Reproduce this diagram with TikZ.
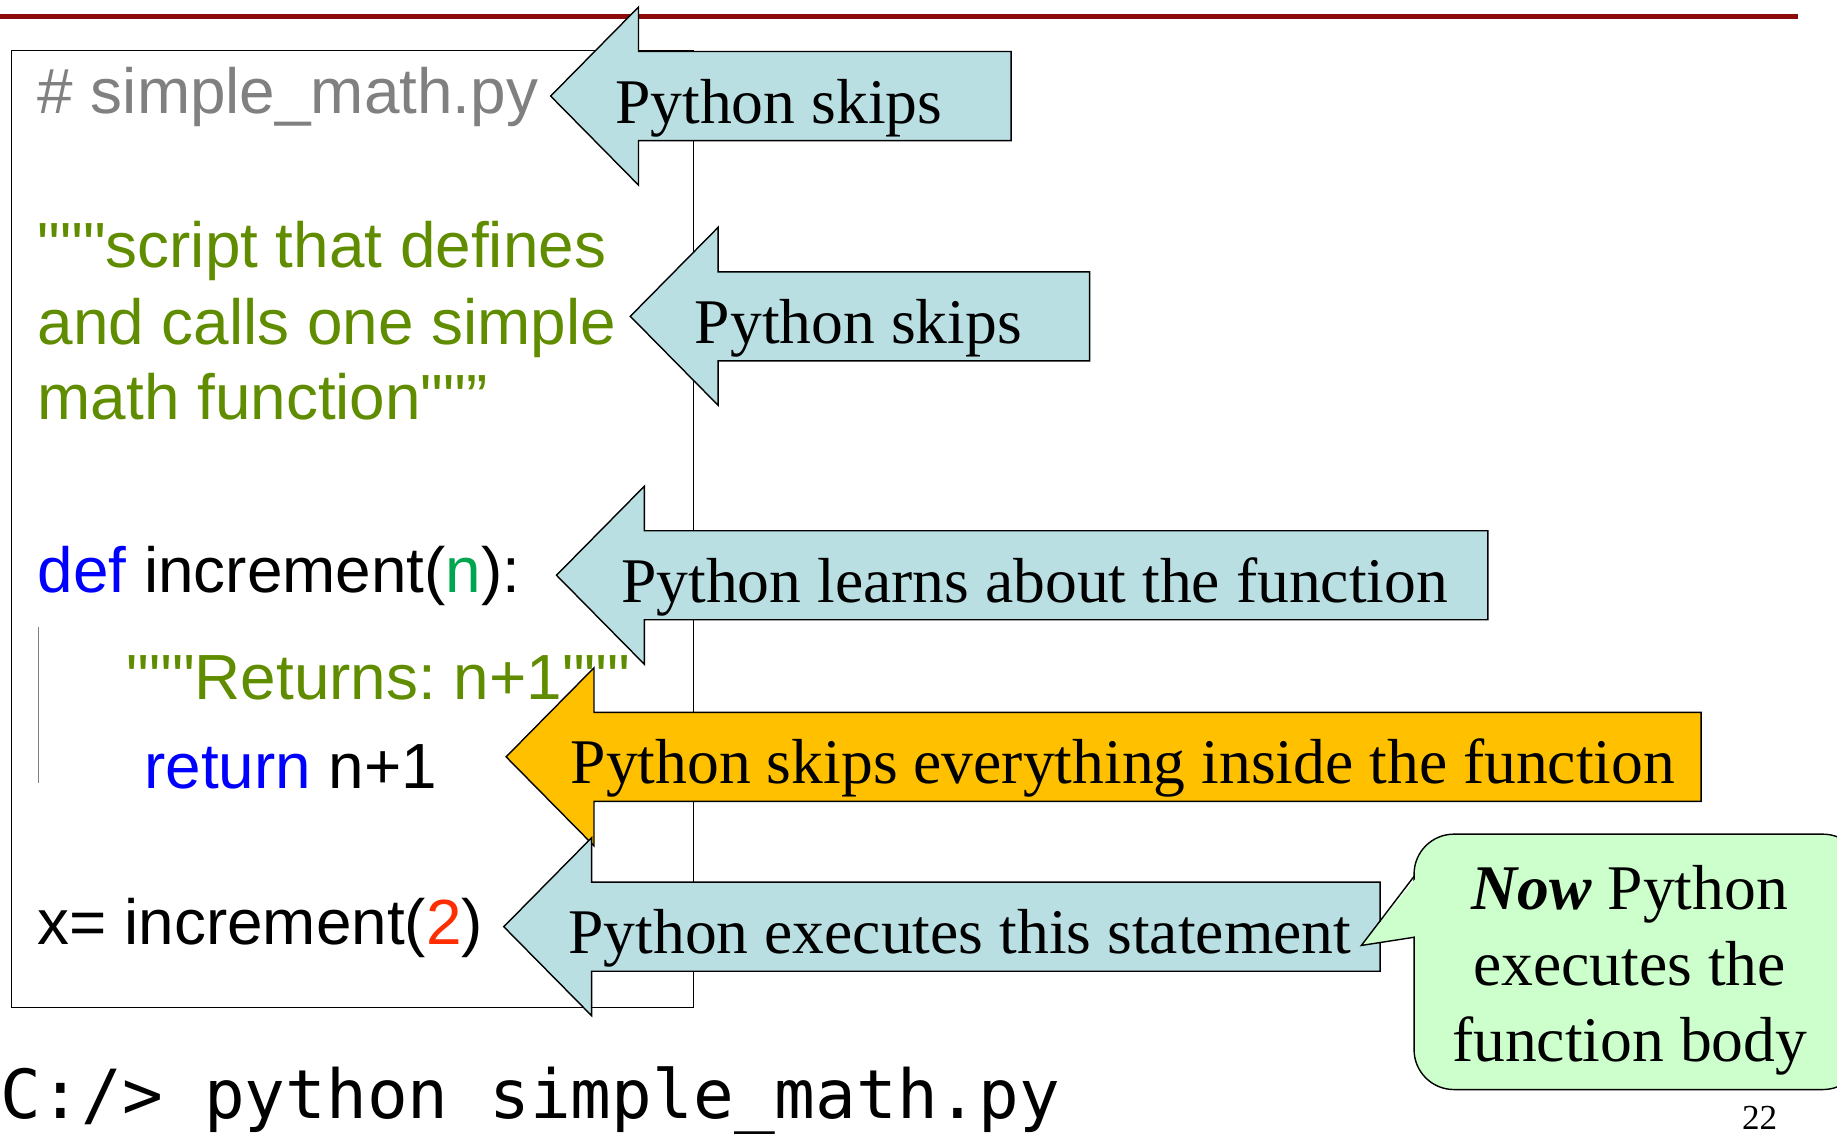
\documentclass[tikz,border=0pt]{standalone}
\usepackage{fontspec}
\setmainfont{Liberation Serif}
\setsansfont{Liberation Sans}[Ligatures=TeXOff]
\setmonofont{DejaVu Sans Mono}
\frenchspacing

\definecolor{rulered}{RGB}{140,10,10}
\definecolor{cmtgray}{RGB}{128,128,128}
\definecolor{docgreen}{RGB}{96,140,0}
\definecolor{kwblue}{RGB}{0,0,255}
\definecolor{argteal}{RGB}{0,165,80}
\definecolor{numred}{RGB}{255,45,0}
\definecolor{noteblue}{RGB}{185,223,227}
\definecolor{noteorange}{RGB}{255,192,0}
\definecolor{bubblegreen}{RGB}{204,255,204}

% left-pointing block arrow with its note: [fill]{name}{tip x}{mid y}{end x}{text}
\newcommand{\notearrow}[6][noteblue]{%
    \draw[arrowbox, fill=#1] (#3,#4) -- ({#3+75},{#4-76}) -- ({#3+75},{#4-38})
        -- (#5,{#4-38}) -- (#5,{#4+38}) -- ({#3+75},{#4+38}) -- ({#3+75},{#4+76}) -- cycle;
    \node[notetext] (#2) at ({#3+55},{#4+23}) {#6};
}

\begin{document}
\begin{tikzpicture}[
        x=1pt, y=-1pt,
        codetext/.style = {anchor=base west, inner sep=0, font=\sffamily\fontsize{54.5}{65}\selectfont},
        notetext/.style = {anchor=base west, inner sep=0, font=\fontsize{54.3}{65}\selectfont},
        arrowbox/.style = {draw=black, line width=1.2pt, line join=miter},
        bubble/.style = {draw=black, line width=1.2pt, fill=bubblegreen}
    ]
    \clip (0,0) rectangle (1568,968);
    \useasboundingbox (0,0) rectangle (1568,968);

    % title rule and the file
    \draw[rulered, line width=4pt] (0,14) -- (1535,14);
    \draw[line width=1.3pt] (10,43) rectangle (592,860);
    \draw[cmtgray, line width=0.8pt] (33,535) -- (33,668);

    \node[codetext, cmtgray] (comment) at (32,97) {\# simple\_math.py};
    \node[codetext, docgreen] (doc1) at (32,228) {"""script that defines};
    \node[codetext, docgreen] (doc2) at (32,294) {and calls one simple};
    \node[codetext, docgreen] (doc3) at (32,358) {math function""”};
    \node[codetext] (defline) at (32,506) {\textcolor{kwblue}{def} increment(\textcolor{argteal}{n}):};
    \node[codetext, docgreen] (retdoc) at (108,597) {"""Returns: n+1"""};
    \node[codetext] (retline) at (123,673) {\textcolor{kwblue}{return} n+1};
    \node[codetext] (callline) at (32,806) {x= increment(\textcolor{numred}{2})};

    % notes
    \notearrow{skip1}{470}{82}{863}{Python skips}
    \notearrow{skip2}{538}{270}{930}{Python skips}
    \notearrow{learn}{475}{491}{1270}{Python learns about the function}
    \notearrow[noteorange]{body}{432}{646}{1452}{Python skips everything inside the function}
    \notearrow{exec}{430}{791}{1178}{Python executes this statement}

    % speech bubble pointing at the last note
    \coordinate (ptr) at (1162,807);
    \draw[bubble, rounded corners=34] (1207,712) rectangle (1590,930);
    \fill[bubblegreen] (1209,749) -- (ptr) -- (1209,799) -- cycle;
    \draw[line width=1.2pt, line join=miter] (1207,748) -- (ptr) -- (1207,800);
    \node[align=center, inner sep=0, font=\fontsize{54.3}{65}\selectfont] (nowrun) at (1391,828)
        {\textbf{\textit{Now}} Python\\executes the\\function body};

    \node[anchor=base west, inner sep=0, font=\ttfamily\fontsize{57.8}{65}\selectfont] (cmd) at (0,955)
        {C:/> python simple\_math.py};
    \node[anchor=base, inner sep=0, font=\fontsize{30}{36}\selectfont] (pageno) at (1502,964) {22};
\end{tikzpicture}
\end{document}
